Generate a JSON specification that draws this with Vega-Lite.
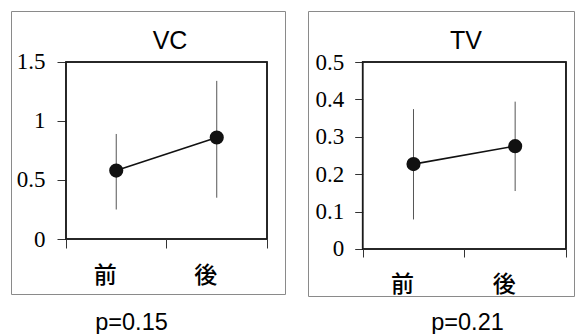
{
  "$schema": "https://vega.github.io/schema/vega-lite/v6.json",
  "padding": {"left": 10, "top": 10, "right": 0, "bottom": 0},
  "background": "#ffffff",
  "spacing": 21,
  "datasets": {
    "vc": [
      {"t": "前", "m": 0.58, "lo": 0.25, "hi": 0.89},
      {"t": "後", "m": 0.86, "lo": 0.35, "hi": 1.34}
    ],
    "tv": [
      {"t": "前", "m": 0.227, "lo": 0.079, "hi": 0.374},
      {"t": "後", "m": 0.275, "lo": 0.155, "hi": 0.394}
    ]
  },
  "hconcat": [
    {
      "width": 274,
      "height": 283,
      "title": {"text": "VC", "font": "Liberation Sans", "fontSize": 25, "fontWeight": "normal", "color": "#000", "anchor": "middle", "dx": 22, "offset": -63, "baseline": "alphabetic"},
      "data": {"name": "vc"},
      "layer": [
        {
          "mark": {"type": "rect", "fill": null, "stroke": "#1a1a1a", "strokeWidth": 1.5},
          "encoding": {
            "x": {"datum": "前", "bandPosition": 0},
            "x2": {"datum": "後", "bandPosition": 1},
            "y": {"datum": 0},
            "y2": {"datum": 1.5}
          }
        },
        {
          "mark": {"type": "rule", "color": "#555", "strokeWidth": 1},
          "encoding": {
            "x": {"field": "t", "type": "nominal"},
            "y": {"field": "lo", "type": "quantitative"},
            "y2": {"field": "hi"}
          }
        },
        {
          "mark": {"type": "line", "color": "#111", "strokeWidth": 1.6},
          "encoding": {
            "x": {"field": "t", "type": "nominal"},
            "y": {"field": "m", "type": "quantitative"}
          }
        },
        {
          "mark": {"type": "circle", "color": "#111", "opacity": 1, "size": 200},
          "encoding": {
            "x": {
              "field": "t", "type": "nominal", "sort": ["前", "後"],
              "scale": {"domain": ["前", "後"], "paddingInner": 0, "paddingOuter": 0.363, "align": 0.7534},
              "axis": {"title": "p=0.15", "titleFont": "Liberation Sans", "titleFontSize": 23.5, "titleFontWeight": "normal", "titleColor": "#000", "titleX": 120, "titleY": 90, "titleBaseline": "alphabetic", "titleAlign": "center", "offset": -55, "domain": false, "tickBand": "extent", "tickSize": 9, "tickColor": "#333", "labelFont": "Noto Sans CJK JP", "labelFontSize": 23, "labelFontWeight": 500, "labelColor": "#000", "labelPadding": 16, "labelAngle": 0, "labelBaseline": "top", "grid": false}
            },
            "y": {
              "field": "m", "type": "quantitative",
              "scale": {"domain": [-0.4661, 1.9322], "nice": false, "zero": false},
              "axis": {"title": null, "values": [0, 0.5, 1, 1.5], "format": ".1~f", "offset": -55, "domain": false, "grid": false, "tickSize": 9, "tickColor": "#333", "labelFont": "Liberation Serif", "labelFontSize": 23, "labelColor": "#000", "labelPadding": 12}
            }
          }
        }
      ]
    },
    {
      "width": 266,
      "height": 285,
      "title": {"text": "TV", "font": "Liberation Sans", "fontSize": 25, "fontWeight": "normal", "color": "#000", "anchor": "middle", "dx": 25, "offset": -63, "baseline": "alphabetic"},
      "data": {"name": "tv"},
      "layer": [
        {
          "mark": {"type": "rect", "fill": null, "stroke": "#1a1a1a", "strokeWidth": 1.5},
          "encoding": {
            "x": {"datum": "前", "bandPosition": 0},
            "x2": {"datum": "後", "bandPosition": 1},
            "y": {"datum": 0},
            "y2": {"datum": 0.5}
          }
        },
        {
          "mark": {"type": "rule", "color": "#555", "strokeWidth": 1},
          "encoding": {
            "x": {"field": "t", "type": "nominal"},
            "y": {"field": "lo", "type": "quantitative"},
            "y2": {"field": "hi"}
          }
        },
        {
          "mark": {"type": "line", "color": "#111", "strokeWidth": 1.6},
          "encoding": {
            "x": {"field": "t", "type": "nominal"},
            "y": {"field": "m", "type": "quantitative"}
          }
        },
        {
          "mark": {"type": "circle", "color": "#111", "opacity": 1, "size": 200},
          "encoding": {
            "x": {
              "field": "t", "type": "nominal", "sort": ["前", "後"],
              "scale": {"domain": ["前", "後"], "paddingInner": 0, "paddingOuter": 0.3084, "align": 0.872},
              "axis": {"title": "p=0.21", "titleFont": "Liberation Sans", "titleFontSize": 23.5, "titleFontWeight": "normal", "titleColor": "#000", "titleX": 159, "titleY": 80, "titleBaseline": "alphabetic", "titleAlign": "center", "offset": -47, "domain": false, "tickBand": "extent", "tickSize": 8, "tickColor": "#333", "labelFont": "Noto Sans CJK JP", "labelFontSize": 23, "labelFontWeight": 500, "labelColor": "#000", "labelPadding": 16, "labelAngle": 0, "labelBaseline": "top", "grid": false}
            },
            "y": {
              "field": "m", "type": "quantitative",
              "scale": {"domain": [-0.1257, 0.6364], "nice": false, "zero": false},
              "axis": {"title": null, "values": [0, 0.1, 0.2, 0.3, 0.4, 0.5], "format": ".1~f", "offset": -54.7, "domain": false, "grid": false, "tickSize": 8, "tickColor": "#333", "labelFont": "Liberation Serif", "labelFontSize": 23, "labelColor": "#000", "labelPadding": 11}
            }
          }
        }
      ]
    }
  ],
  "config": {
    "view": {"stroke": "#8a8a8a", "strokeWidth": 1}
  }
}
